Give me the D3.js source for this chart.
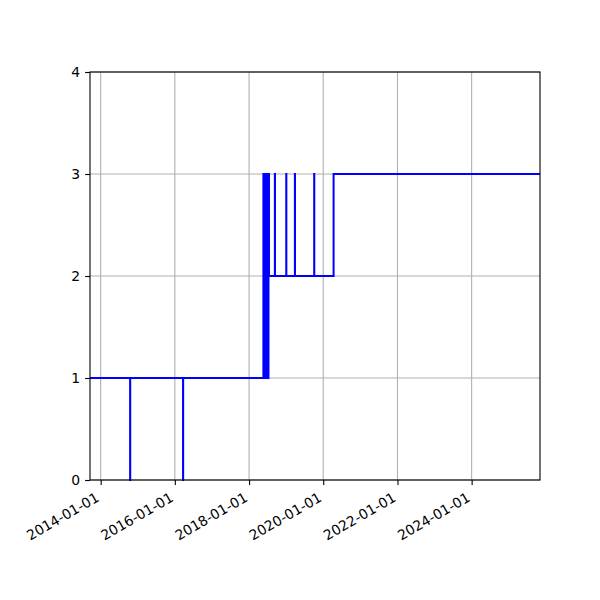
<!DOCTYPE html>
<meta charset="utf-8">
<style>

body {
  margin: 0;
  background: #fff;
}

.grid line {
  stroke: #b0b0b0;
  stroke-width: 1.1px;
}

.axis text {
  font-family: "DejaVu Sans", sans-serif;
  font-size: 13.9px;
  fill: #000;
}

.axis line, .axis path {
  stroke: #000;
  stroke-width: 1.1px;
}

.series {
  fill: none;
  stroke: #0000ff;
  stroke-width: 2px;
}

</style>
<svg width="600" height="600"></svg>
<script src="https://d3js.org/d3.v7.min.js"></script>
<script>

// x range of the axes
var xStart = "2013-09-18",
    xEnd = "2025-11-04";

// step series: value holds from this date until the next one
var dates = [
  "2013-09-18", "2014-10-18", "2014-10-19", "2016-03-22", "2016-03-23",
  "2018-05-22", "2018-05-27", "2018-06-01", "2018-06-06", "2018-06-11",
  "2018-06-16", "2018-06-21", "2018-06-26", "2018-07-01", "2018-07-06",
  "2018-07-11", "2018-07-16",
  "2018-09-12", "2018-09-13", "2019-01-02", "2019-01-03",
  "2019-03-28", "2019-03-29", "2019-10-04", "2019-10-05",
  "2020-04-12", "2025-11-04"
];
var values = [
  1, 0, 1, 0, 1,
  3, 1, 3, 1, 3,
  1, 3, 1, 3, 1,
  3, 2,
  3, 2, 3, 2,
  3, 2, 3, 2,
  3, 3
];

var yTicks = [0, 1, 2, 3, 4];
var xTickDates = ["2014-01-01", "2016-01-01", "2018-01-01", "2020-01-01", "2022-01-01", "2024-01-01"];

var svg = d3.select("svg"),
    margin = {top: 72, right: 60, bottom: 120, left: 90},
    width = +svg.attr("width") - margin.left - margin.right,
    height = +svg.attr("height") - margin.top - margin.bottom;

var parse = d3.utcParse("%Y-%m-%d");

var x = d3.scaleUtc()
    .domain([parse(xStart), parse(xEnd)])
    .range([0, width]);

var y = d3.scaleLinear()
    .domain([0, 4])
    .range([height, 0]);

var g = svg.append("g")
    .attr("transform", "translate(" + margin.left + "," + margin.top + ")");

var xTicks = xTickDates.map(parse);

// grid
g.append("g")
    .attr("class", "grid")
  .selectAll("line.v")
  .data(xTicks)
  .enter().append("line")
    .attr("x1", function(d) { return x(d); })
    .attr("x2", function(d) { return x(d); })
    .attr("y1", 0)
    .attr("y2", height);

g.append("g")
    .attr("class", "grid")
  .selectAll("line.h")
  .data(yTicks)
  .enter().append("line")
    .attr("x1", 0)
    .attr("x2", width)
    .attr("y1", function(d) { return y(d); })
    .attr("y2", function(d) { return y(d); });

// the line
var data = dates.map(function(d, i) { return {date: parse(d), value: values[i]}; });

var line = d3.line()
    .curve(d3.curveStepAfter)
    .x(function(d) { return x(d.date); })
    .y(function(d) { return y(d.value); });

g.append("path")
    .datum(data)
    .attr("class", "series")
    .attr("d", line);

// axes
var xAxis = g.append("g")
    .attr("class", "axis")
    .attr("transform", "translate(0," + height + ")")
    .call(d3.axisBottom(x).tickValues(xTicks).tickSize(4.9).tickFormat(d3.utcFormat("%Y-%m-%d")));

xAxis.select(".domain").remove();
xAxis.selectAll("text")
    .attr("y", null)
    .attr("dy", null)
    .style("text-anchor", "end")
    .style("dominant-baseline", "central")
    .attr("transform", "translate(-3.5,16) rotate(-30)");

var yAxis = g.append("g")
    .attr("class", "axis")
    .call(d3.axisLeft(y).tickValues(yTicks).tickSize(4.9).tickPadding(4.9).tickFormat(d3.format("d")));

yAxis.select(".domain").remove();

// frame
g.append("rect")
    .attr("width", width)
    .attr("height", height)
    .attr("fill", "none")
    .attr("stroke", "#000")
    .attr("stroke-width", 1.1);

</script>
